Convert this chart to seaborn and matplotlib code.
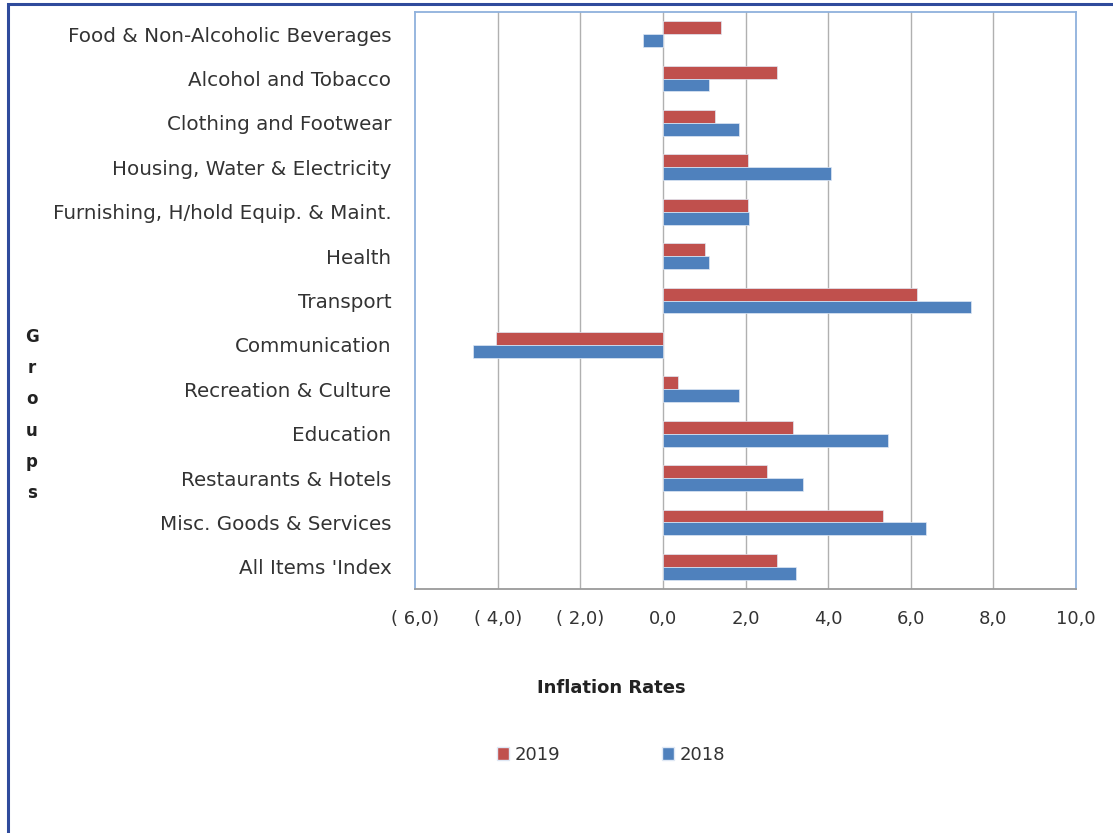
import matplotlib
matplotlib.use("Agg")
import matplotlib.pyplot as plt
import seaborn as sns
import pandas as pd
from matplotlib.patches import Rectangle, Patch

categories = [
    "Food & Non-Alcoholic Beverages",
    "Alcohol and Tobacco",
    "Clothing and Footwear",
    "Housing, Water & Electricity",
    "Furnishing, H/hold Equip. & Maint.",
    "Health",
    "Transport",
    "Communication",
    "Recreation & Culture",
    "Education",
    "Restaurants & Hotels",
    "Misc. Goods & Services",
    "All Items 'Index",
]
values_2019 = [1.40, 2.76, 1.25, 2.05, 2.05, 1.03, 6.14, -4.04, 0.36, 3.14, 2.51, 5.33, 2.76]
values_2018 = [-0.49, 1.12, 1.84, 4.07, 2.09, 1.12, 7.45, -4.60, 1.84, 5.45, 3.40, 6.37, 3.23]
series = ["2019", "2018"]
xticks = [-6, -4, -2, 0, 2, 4, 6, 8, 10]
xtick_labels = ["( 6,0)", "( 4,0)", "( 2,0)", "0,0", "2,0", "4,0", "6,0", "8,0", "10,0"]

df = pd.DataFrame({
    "Group": categories * 2,
    "Year": ["2019"] * len(categories) + ["2018"] * len(categories),
    "Rate": values_2019 + values_2018,
})

sns.set_theme(style="white")
plt.rcParams["font.family"] = ["DejaVu Sans"]

colors = {"2019": "#C0504D", "2018": "#4F81BD"}

fig = plt.figure(figsize=(11.13, 8.33), dpi=100)
ax = fig.add_axes([415 / 1113, 1 - 589 / 833, (1076 - 415) / 1113, (589 - 12) / 833])

sns.barplot(data=df, y="Group", x="Rate", hue="Year", hue_order=series,
            order=categories, palette=colors, orient="h", width=0.58,
            saturation=1, edgecolor="#dfe8f5", linewidth=0.5, ax=ax,
            legend=False, zorder=3)

ax.set_xlim(-6, 10)
ax.set_xticks(xticks)
ax.set_xticklabels(xtick_labels, fontsize=13, color="#333333")
ax.tick_params(axis="x", length=0, pad=15)
ax.tick_params(axis="y", length=0, pad=17, labelsize=14.3, labelcolor="#333333")
ax.set_ylabel("")
ax.set_xlabel("")
for x in xticks[1:-1]:
    ax.axvline(x, color="#b0b0b0", linewidth=1.0, zorder=1)
for side in ["left", "top", "right"]:
    ax.spines[side].set_color("#8fb1dc")
    ax.spines[side].set_linewidth(1.3)
ax.spines["bottom"].set_color("#9a9a9a")
ax.spines["bottom"].set_linewidth(1.3)

fig.text(611 / 1113, 1 - 688 / 833, "Inflation Rates", ha="center", va="center",
         fontsize=13, fontweight="bold", color="#222222")
fig.text(32 / 1113, 1 - 415 / 833, "\n".join("Groups"), ha="center", va="center",
         fontsize=12, fontweight="bold", color="#222222", linespacing=1.95)

handles = [Patch(facecolor=colors[s], edgecolor="#dfe8f5", label=s) for s in series]
fig.legend(handles=handles, loc="center", bbox_to_anchor=(611 / 1113, 1 - 755 / 833),
           ncol=2, frameon=False, fontsize=13, handlelength=0.7, handleheight=0.7,
           handletextpad=0.3, columnspacing=5.6, labelcolor="#333333")

fig.patches.append(Rectangle((8 / 1113, -0.05), 1.2, 1 - 4 / 833 + 0.05,
                             transform=fig.transFigure, fill=False,
                             edgecolor="#2f4b9c", linewidth=2.2, zorder=0))

fig.savefig("out.png", dpi=100, facecolor="white")
